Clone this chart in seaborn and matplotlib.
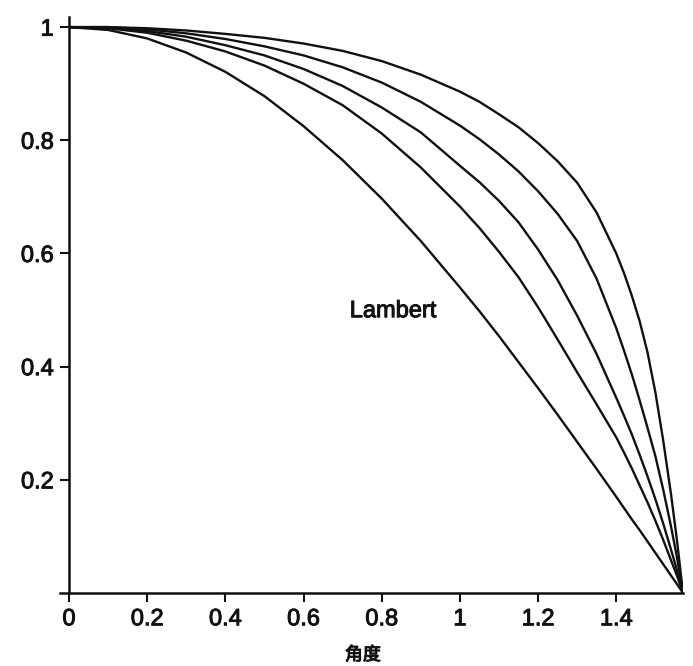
import numpy as np
import pandas as pd
import matplotlib
matplotlib.use("Agg")
import matplotlib.pyplot as plt
import matplotlib.patheffects as pe
import seaborn as sns

# Angle (radians) sample positions
theta = [0.0, 0.1, 0.2, 0.3, 0.4, 0.5, 0.6, 0.7, 0.8, 0.9,
         1.0, 1.05, 1.1, 1.15, 1.2, 1.25, 1.3, 1.35,
         1.4, 1.42, 1.44, 1.46, 1.48, 1.5, 1.52, 1.54, 1.555, 1.5708]

# Curves, top (outermost) to bottom (Lambert)
curve_1 = [1.0, 1.0, 0.998, 0.994, 0.988, 0.981, 0.971, 0.958, 0.940, 0.916,
           0.886, 0.868, 0.846, 0.823, 0.795, 0.763, 0.725, 0.672,
           0.600, 0.565, 0.525, 0.480, 0.425, 0.355, 0.270, 0.175, 0.095, 0.0]
curve_2 = [1.0, 1.0, 0.996, 0.989, 0.979, 0.966, 0.950, 0.929, 0.902, 0.868,
           0.826, 0.802, 0.775, 0.745, 0.710, 0.670, 0.622, 0.555,
           0.468, 0.428, 0.386, 0.340, 0.292, 0.242, 0.183, 0.118, 0.064, 0.0]
curve_3 = [1.0, 0.999, 0.993, 0.983, 0.968, 0.950, 0.926, 0.896, 0.858, 0.814,
           0.755, 0.726, 0.693, 0.655, 0.607, 0.553, 0.490, 0.422,
           0.345, 0.313, 0.280, 0.244, 0.206, 0.166, 0.123, 0.077, 0.041, 0.0]
curve_4 = [1.0, 0.998, 0.990, 0.976, 0.957, 0.932, 0.900, 0.862, 0.812, 0.752,
           0.683, 0.645, 0.603, 0.558, 0.505, 0.448, 0.390, 0.333,
           0.275, 0.248, 0.220, 0.190, 0.160, 0.128, 0.094, 0.058, 0.031, 0.0]
lambert = [1.0, 0.995, 0.980, 0.955, 0.921, 0.878, 0.825, 0.765, 0.697, 0.622,
           0.540, 0.498, 0.454, 0.408, 0.362, 0.315, 0.267, 0.219,
           0.170, 0.150, 0.130, 0.111, 0.091, 0.071, 0.051, 0.031, 0.016, 0.0]

curve_names = ["c1", "c2", "c3", "c4", "Lambert"]
x_ticks = [0, 0.2, 0.4, 0.6, 0.8, 1.0, 1.2, 1.4]
x_tick_labels = ["0", "0.2", "0.4", "0.6", "0.8", "1", "1.2", "1.4"]
y_ticks = [0.2, 0.4, 0.6, 0.8, 1.0]
y_tick_labels = ["0.2", "0.4", "0.6", "0.8", "1"]
x_label = "角度"
annotation = "Lambert"

rows = []
for name, vals in zip(curve_names, [curve_1, curve_2, curve_3, curve_4, lambert]):
    for t, v in zip(theta, vals):
        rows.append({"theta": t, "value": v, "curve": name})
df = pd.DataFrame(rows)

sns.set_style("ticks")
plt.rcParams["font.family"] = ["Liberation Sans", "Noto Sans CJK SC", "DejaVu Sans"]

fig = plt.figure(figsize=(6.93, 6.66), dpi=100)
ax = fig.add_axes([0.0866, 0.1096, 0.899, 0.865])

sns.lineplot(data=df, x="theta", y="value", hue="curve",
             palette=["#111111"] * 5, legend=False, ax=ax,
             linewidth=1.7, errorbar=None)
for ln in ax.lines:
    ln.set_solid_joinstyle("round")

ax.set_xlim(-0.023, 1.5708)
ax.set_ylim(0, 1.018)
ax.spines["left"].set_position(("data", 0))
ax.spines["top"].set_visible(False)
ax.spines["right"].set_visible(False)
for s in ("left", "bottom"):
    ax.spines[s].set_linewidth(1.8)
    ax.spines[s].set_color("#111111")

ax.set_xticks(x_ticks)
ax.set_xticklabels(x_tick_labels)
ax.set_yticks(y_ticks)
ax.set_yticklabels(y_tick_labels)
ax.tick_params(axis="both", direction="out", length=6.5, width=1.5,
               color="#111111", labelsize=17, labelcolor="#111111", pad=4.5)

bold_fx = [pe.withStroke(linewidth=0.7, foreground="#111111")]
for lab in ax.get_xticklabels() + ax.get_yticklabels():
    lab.set_path_effects(bold_fx)

ax.set_xlabel(x_label, fontsize=13, color="#111111",
              family=["Noto Sans CJK SC", "DejaVu Sans"])
ax.xaxis.set_label_coords(0.486, -0.092)
ax.xaxis.label.set_va("top")
ax.xaxis.label.set_path_effects(bold_fx)
ax.set_ylabel("")

ax.text(0.829, 0.498, annotation, ha="center", va="center",
        fontsize=17, color="#111111", path_effects=bold_fx)

fig.savefig("out.png", dpi=100, facecolor="white")
